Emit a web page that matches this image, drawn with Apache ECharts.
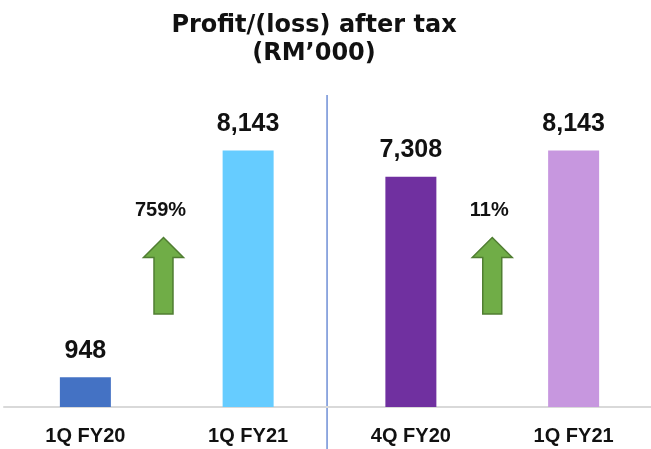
<!DOCTYPE html>
<html>
<head>
<meta charset="utf-8">
<script src="https://cdn.jsdelivr.net/npm/echarts@6/dist/echarts.min.js"></script>
<style>
  html, body { margin: 0; padding: 0; background: #fff; }
  #main { width: 651px; height: 449px; }
</style>
</head>
<body>
<div id="main"></div>
<script>
// data
const categories = ['1Q FY20', '1Q FY21', '4Q FY20', '1Q FY21'];
const profit = [948, 8143, 7308, 8143];
const barColors = ['#4472C4', '#66CCFF', '#7030A0', '#C797DF'];

// growth arrows: position on category axis, start/end value, label
const arrowAt = [0.48, 2.5];
const arrowFrom = [2950, 2950];
const arrowTo = [5380, 5380];
const arrowLabels = ['759%', '11%'];
const arrowLabelValue = 6230;

// divider between the two comparisons
const dividerAt = 1.485;

const font = 'Liberation Sans';

const chart = echarts.init(document.getElementById('main'));

chart.setOption({
    animation: false,
    title: {
        text: 'Profit/(loss) after tax\n(RM\u2019000)',
        left: 309,
        top: 7,
        textAlign: 'center',
        textStyle: { fontFamily: 'DejaVu Sans', fontSize: 24, fontWeight: 'bold', color: '#111', lineHeight: 28 }
    },
    grid: { left: 4, right: -4, top: 92, bottom: 42, outerBoundsMode: 'none' },
    xAxis: {
        type: 'category',
        data: categories,
        axisLine: { lineStyle: { color: '#d9d9d9', width: 2 } },
        axisTick: { show: false },
        axisLabel: { fontFamily: font, fontSize: 20, fontWeight: 'bold', color: '#111', margin: 19, interval: 0 }
    },
    yAxis: {
        type: 'value',
        min: 0,
        max: 10000,
        show: false,
        splitLine: { show: false }
    },
    series: [{
        type: 'bar',
        barWidth: 51,
        data: profit.map((v, i) => ({ value: v, itemStyle: { color: barColors[i] } })),
        label: {
            show: true,
            position: 'top',
            distance: 14,
            fontFamily: font,
            fontSize: 25,
            fontWeight: 'bold',
            color: '#111',
            formatter: p => p.value.toLocaleString('en-US')
        }
    }]
});

// pixel position for a fractional category position and a value
function toPx(pos, val) {
    const i = Math.min(Math.floor(pos), categories.length - 2);
    const a = chart.convertToPixel({ gridIndex: 0 }, [i, val]);
    const b = chart.convertToPixel({ gridIndex: 0 }, [i + 1, val]);
    return [a[0] + (b[0] - a[0]) * (pos - i), a[1]];
}

const graphics = [];

const dTop = toPx(dividerAt, 10000);
graphics.push({
    type: 'line',
    shape: { x1: dTop[0], y1: dTop[1] + 3, x2: dTop[0], y2: 449 },
    style: { stroke: '#6f8fd6', lineWidth: 1.5 }
});

arrowAt.forEach((pos, k) => {
    const bottom = toPx(pos, arrowFrom[k]);
    const top = toPx(pos, arrowTo[k]);
    const cx = bottom[0];
    const headW = 20, shaftW = 9.5, headH = 20;
    graphics.push({
        type: 'polygon',
        shape: {
            points: [
                [cx, top[1]],
                [cx + headW, top[1] + headH],
                [cx + shaftW, top[1] + headH],
                [cx + shaftW, bottom[1]],
                [cx - shaftW, bottom[1]],
                [cx - shaftW, top[1] + headH],
                [cx - headW, top[1] + headH]
            ]
        },
        style: { fill: '#70AD47', stroke: '#507E32', lineWidth: 1.5 }
    });
    const lab = toPx(pos, arrowLabelValue);
    graphics.push({
        type: 'text',
        x: lab[0] - 3,
        y: lab[1],
        style: {
            text: arrowLabels[k],
            fontFamily: font,
            fontSize: 20,
            fontWeight: 'bold',
            fill: '#111',
            align: 'center',
            verticalAlign: 'middle'
        }
    });
});

chart.setOption({ graphic: graphics });
</script>
</body>
</html>
